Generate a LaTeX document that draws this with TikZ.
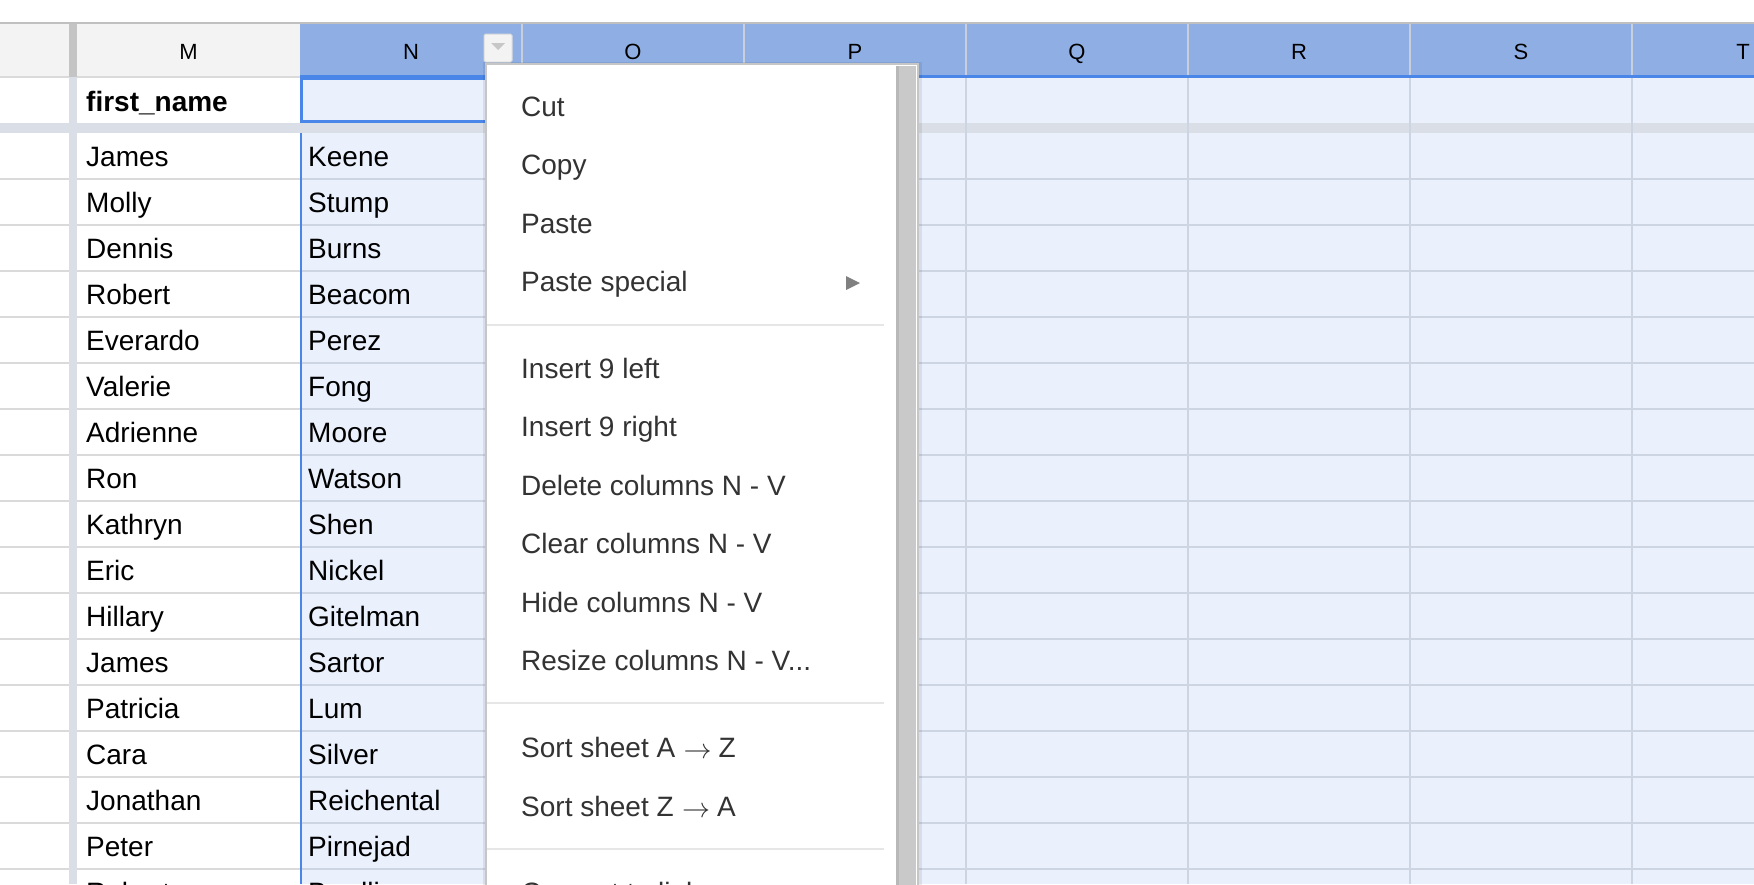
\documentclass[tikz,border=0pt]{standalone}
\usepackage{fix-cm}
\usepackage{fontspec}
\setmainfont{Liberation Sans}
\definecolor{hdrgray}{HTML}{F3F3F3}
\definecolor{hdrblue}{HTML}{8FAFE4}
\definecolor{selfill}{HTML}{EAF1FD}
\definecolor{gridw}{HTML}{DADADA}
\definecolor{gridb}{HTML}{CDD5E3}
\definecolor{gridh}{HTML}{C9CFDA}
\definecolor{frz}{HTML}{DADFE7}
\definecolor{frzhdr}{HTML}{C4C4C4}
\definecolor{topline}{HTML}{C0C0C0}
\definecolor{selblue}{HTML}{4A86E8}
\definecolor{menutext}{HTML}{333333}
\definecolor{sepgray}{HTML}{E6E6E6}
\definecolor{scrollgray}{HTML}{C9C9C9}
\definecolor{menuborder}{HTML}{C6C6C6}
\newcommand{\sortarrow}{\hspace{0.3em}\raisebox{-1pt}{$\rightarrow$}\hspace{0.25em}}
\begin{document}
\begin{tikzpicture}[x=1pt,y=-1pt,
  celltext/.style={inner sep=0pt,anchor=base west,font=\fontsize{28}{32}\selectfont,text=black},
  hdrtext/.style={inner sep=0pt,anchor=base,font=\fontsize{22}{26}\selectfont,text=black},
  menuitem/.style={inner sep=0pt,anchor=base west,font=\fontsize{28}{32}\selectfont,text=menutext},
  rowline/.style={line width=1.6pt},
  colline/.style={line width=2pt,gridb},
  sepline/.style={line width=2pt,sepgray}]
\useasboundingbox (0,0) rectangle (1754,884);
\begin{scope}
\clip (0,0) rectangle (1754,884);
% background
\fill[white] (0,0) rectangle (1754,884);
% header row
\fill[hdrgray] (0,24) rectangle (300,77);
\fill[hdrblue] (300,24) rectangle (1754,77);
\fill[topline] (0,21.5) rectangle (1754,24);
% data area of selected columns
\fill[selfill] (300,77) rectangle (1754,884);
% frozen row band
\fill[frz] (0,123) rectangle (1754,133);
% row lines
\foreach \k in {1,...,16}{
  \draw[rowline,gridw] (0,133+46*\k) -- (300,133+46*\k);
  \draw[rowline,gridb] (300,133+46*\k) -- (1754,133+46*\k);
}
\draw[rowline,gridw] (0,77) -- (300,77);
% column lines
\foreach \xx in {522,744,966,1188,1410,1632}{
  \draw[colline] (\xx,77) -- (\xx,884);
  \draw[line width=2pt,gridh] (\xx,24) -- (\xx,77);
}
% frozen column band
\fill[frzhdr] (69,24) rectangle (77,77);
\fill[frz] (69,77) rectangle (77,884);
% selection borders
\draw[line width=2.5pt,selblue] (300,76.5) -- (1754,76.5);
\draw[line width=2pt,selblue] (300.5,133) -- (300.5,884);
\draw[line width=3pt,selblue,fill=selfill] (301.5,78.5) rectangle (540,121.5);
% header letters
\foreach \n/\c in {M/188.5,N/411,O/633,P/855,Q/1077,R/1299,S/1521,T/1743}{
  \node[hdrtext] (h\n) at (\c,59) {\n};
}
% frozen row
\node[celltext,font=\fontsize{28}{32}\selectfont\bfseries] (fn) at (86,111) {first\_name};
% data rows
\foreach \f/\l [count=\i] in {James/Keene,Molly/Stump,Dennis/Burns,Robert/Beacom,Everardo/Perez,Valerie/Fong,Adrienne/Moore,Ron/Watson,Kathryn/Shen,Eric/Nickel,Hillary/Gitelman,James/Sartor,Patricia/Lum,Cara/Silver,Jonathan/Reichental,Peter/Pirnejad,Robert/Bradli}{
  \node[celltext] (f\i) at (86,120+46*\i) {\f};
  \node[celltext] (l\i) at (308,120+46*\i) {\l};
}
% dropdown button
\draw[fill=hdrgray,draw=white!85!black,line width=1pt,rounded corners=1.5pt] (484,34) rectangle (512,62);
\fill[white!78!black] (491,43) -- (505,43) -- (498,50) -- cycle;
% menu
\fill[black,opacity=0.08] (483,62) rectangle (922,900);
\draw[fill=white,draw=menuborder,line width=2pt] (486,64) rectangle (918,900);
\fill[scrollgray] (896,66) rectangle (916,900);
\fill[white!72!black] (896,66) rectangle (898.5,900);
\draw[sepline] (487,325) -- (884,325);
\draw[sepline] (487,703) -- (884,703);
\draw[sepline] (487,849) -- (884,849);
\node[menuitem] (m1) at (521,116) {Cut};
\node[menuitem] (m2) at (521,174.5) {Copy};
\node[menuitem] (m3) at (521,233) {Paste};
\node[menuitem] (m4) at (521,291.5) {Paste special};
\fill[white!50!black] (846,276) -- (860,283) -- (846,290) -- cycle;
\node[menuitem] (m5) at (521,378) {Insert 9 left};
\node[menuitem] (m6) at (521,436.5) {Insert 9 right};
\node[menuitem] (m7) at (521,495) {Delete columns N - V};
\node[menuitem] (m8) at (521,553.5) {Clear columns N - V};
\node[menuitem] (m9) at (521,612) {Hide columns N - V};
\node[menuitem] (m10) at (521,670) {Resize columns N - V...};
\node[menuitem] (m11) at (521,757) {Sort sheet A\sortarrow Z};
\node[menuitem] (m12) at (521,816) {Sort sheet Z\sortarrow A};
\node[menuitem] (m13) at (521,902) {Convert to links};
\end{scope}
\end{tikzpicture}
\end{document}
